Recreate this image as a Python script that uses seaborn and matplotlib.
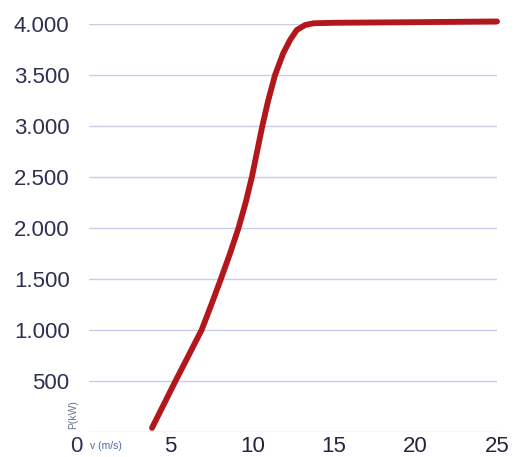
import numpy as np
import pandas as pd
import matplotlib
matplotlib.use("Agg")
import matplotlib.pyplot as plt
import seaborn as sns

# power curve (wind speed m/s, power kW)
wind_speed = [3.86, 4.58, 5.30, 6.10, 6.90, 7.50, 8.08, 8.64, 9.16, 9.60,
              9.98, 10.30, 10.62, 10.98, 11.40, 11.90, 12.32, 12.73,
              13.24, 13.74, 15.0, 20.0, 25.0]
power_kw = [40, 270, 500, 750, 1000, 1250, 1500, 1750, 2000, 2250,
            2500, 2750, 3000, 3250, 3500, 3713, 3843, 3941,
            3990, 4007, 4012, 4018, 4025]
y_ticks = [500, 1000, 1500, 2000, 2500, 3000, 3500, 4000]
y_ticklabels = ["500", "1.000", "1.500", "2.000", "2.500", "3.000", "3.500", "4.000"]
x_ticks = [5, 10, 15, 20, 25]

sns.set_style("white")
plt.rcParams['font.family'] = ['Liberation Sans', 'DejaVu Sans']

df = pd.DataFrame({"v": wind_speed, "P": power_kw})

fig = plt.figure(figsize=(5.15, 4.57), dpi=100)
ax = fig.add_axes([89 / 515, 25 / 457, (497 - 89) / 515, (432 - 24) / 457])

# faint horizontal grid like the printed chart
for yv in [0] + y_ticks:
    ax.axhline(yv, color="#c9cde6", lw=1.0, zorder=1)

sns.lineplot(data=df, x="v", y="P", ax=ax, color="#b3161b", lw=4.2,
             zorder=3, clip_on=False)
ax.lines[-1].set_solid_capstyle("round")
ax.lines[-1].set_solid_joinstyle("round")

ax.set_xlim(0, 25)
ax.set_ylim(0, 4000)
ax.set_xticks(x_ticks)
ax.set_xticklabels([str(t) for t in x_ticks])
ax.set_yticks(y_ticks)
ax.set_yticklabels(y_ticklabels)
ax.tick_params(axis="y", length=0, pad=14, labelsize=16, labelcolor="#2e3050")
ax.tick_params(axis="x", length=0, pad=3, labelsize=16, labelcolor="#23253f")
ax.set_xlabel("")
ax.set_ylabel("")
for s in ax.spines.values():
    s.set_visible(False)

# origin label and the small unit labels
fig.text(76 / 515, 1 - 447 / 457, "0", fontsize=16, color="#2e3050",
         ha="center", va="center")
fig.text(90 / 515, 1 - 446 / 457, "v (m/s)", fontsize=7.5, color="#4a6aa8",
         ha="left", va="center")
fig.text(73 / 515, 1 - 415 / 457, "P(kW)", fontsize=7.5, color="#6a7290",
         ha="center", va="center", rotation=90)

fig.savefig("out.png", dpi=100)
